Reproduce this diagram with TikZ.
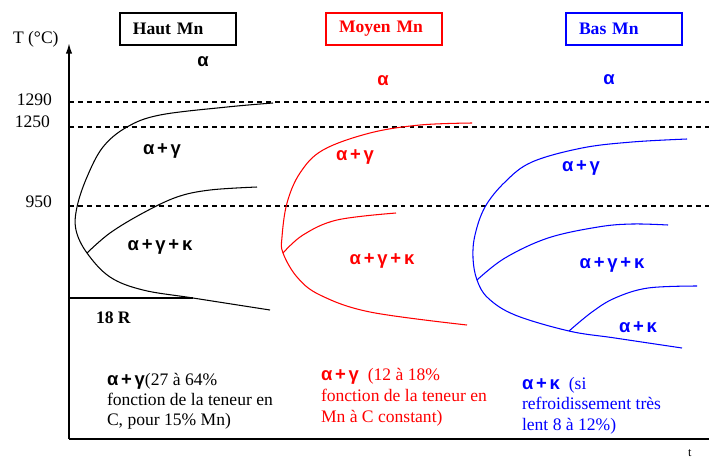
\documentclass[tikz,border=0pt]{standalone}
\usepackage{fontspec}
\setmainfont{Liberation Serif}
\newfontfamily\gsansfam{Liberation Sans}
\usetikzlibrary{arrows.meta}
\newcommand\grk[1]{{\gsansfam\bfseries\fontsize{10.5}{12}\selectfont #1}}
\newcommand\pl{\kern1.6pt+\kern1.6pt}
\begin{document}
\begin{tikzpicture}[x=0.02cm,y=-0.02cm,
  every node/.style={inner sep=0pt, outer sep=0pt, font=\fontsize{10}{11.7}\selectfont},
  titlebox/.style={draw, line width=0.6pt, anchor=north west, minimum width=2.32cm,
    minimum height=0.64cm, text width=1.8cm, inner xsep=0.26cm, align=left,
    font=\fontsize{10}{12}\selectfont\bfseries},
  txt/.style={anchor=base west},
  lab/.style={anchor=center},
  curve/.style={line width=0.6pt},
  guide/.style={line width=0.6pt, dash pattern=on 2.8pt off 2.3pt},
  axis/.style={line width=0.9pt}]
\useasboundingbox (0,0) rectangle (709,457);

% axes
\coordinate (o) at (69,439);
\coordinate (ytop) at (69,43);
\coordinate (xend) at (709,439);
\draw[axis,-{Latex[length=6pt,width=3.6pt]}] (o) -- (ytop);
\draw[line width=1.1pt] (o) -- (xend);
\node[txt] (T) at (13,43) {T (°C)};
\node[txt, font=\fontsize{7}{8}\selectfont] (tlab) at (688,456) {t};

% dashed temperature levels
\coordinate (a1) at (69,102); \coordinate (b1) at (709,102);
\coordinate (a2) at (69,127); \coordinate (b2) at (709,127);
\coordinate (a3) at (69,206); \coordinate (b3) at (709,206);
\draw[guide] (a1) -- (b1);
\draw[guide] (a2) -- (b2);
\draw[guide] (a3) -- (b3);
\node[anchor=base east] (t1290) at (52,105) {1290};
\node[anchor=base east] (t1250) at (50,127) {1250};
\node[anchor=base east] (t950) at (52,207) {950};

% title boxes
\node[titlebox] (haut) at (120,13) {Haut Mn};
\node[titlebox, draw=red, text=red] (moyen) at (326,13) {Moyen Mn};
\node[titlebox, draw=blue, text=blue] (bas) at (566,13) {Bas Mn};

% ---------- Haut Mn (black)
\draw[curve] plot[smooth, tension=0.6] coordinates {(273,103) (227,107) (160,115) (127,127) (103,147) (87,177) (77,207) (76,230) (87,253) (110,277) (143,290) (193,298) (270,310)};
\draw[curve] plot[smooth, tension=0.6] coordinates {(87,253) (110,233) (143,213) (177,197) (210,190) (257,187)};
\coordinate (r18a) at (69,298);
\coordinate (r18b) at (193,298);
\draw[curve] (r18a) -- (r18b);
\node[txt, font=\fontsize{10}{12}\selectfont\bfseries] (r18) at (96,323) {18 R};
\node[lab] (ka) at (203,62) {\grk{α}};
\node[lab] (kag) at (162,151) {\grk{α\pl γ}};
\node[lab] (kagk) at (160,247) {\grk{α\pl γ\pl κ}};
\node[txt] (kt1) at (107,385) {\grk{α\pl γ}(27 à 64\%};
\node[txt] (kt2) at (107,405) {fonction de la teneur en};
\node[txt] (kt3) at (107,425) {C, pour 15\% Mn)};

% ---------- Moyen Mn (red)
\begin{scope}[red]
\draw[curve] plot[smooth, tension=0.6] coordinates {(472,123) (420,125) (370,133) (323,150) (300,173) (287,203) (282,237) (283,253) (297,277) (320,295) (370,312) (467,325)};
\draw[curve] plot[smooth, tension=0.6] coordinates {(283,253) (303,235) (337,220) (396,213)};
\node[lab, text=red] (ra) at (383,81) {\grk{α}};
\node[lab, text=red] (rag) at (355,157) {\grk{α\pl γ}};
\node[lab, text=red] (ragk) at (382,261) {\grk{α\pl γ\pl κ}};
\node[txt, text=red] (rt1) at (321,380) {\grk{α\pl γ}\ \ (12 à 18\%};
\node[txt, text=red] (rt2) at (321,401) {fonction de la teneur en};
\node[txt, text=red] (rt3) at (321,422) {Mn à C constant)};
\end{scope}

% ---------- Bas Mn (blue)
\begin{scope}[blue]
\draw[curve] plot[smooth, tension=0.6] coordinates {(687,139) (632,142) (582,148) (532,162) (505,182) (485,207) (475,235) (473,258) (477,280) (488,298) (515,315) (569,331) (615,338) (682,348)};
\draw[curve] plot[smooth, tension=0.6] coordinates {(477,280) (505,258) (548,238) (598,227) (632,224) (668,225)};
\draw[curve] plot[smooth, tension=0.6] coordinates {(569,331) (592,312) (615,298) (648,288) (697,286)};
\node[lab, text=blue] (ba) at (609,80) {\grk{α}};
\node[lab, text=blue] (bag) at (581,168) {\grk{α\pl γ}};
\node[lab, text=blue] (bagk) at (612,265) {\grk{α\pl γ\pl κ}};
\node[lab, text=blue] (bak) at (638,327) {\grk{α\pl κ}};
\node[txt, text=blue] (bt1) at (522,389) {\grk{α\pl κ}\ \ (si};
\node[txt, text=blue] (bt2) at (522,409) {refroidissement très};
\node[txt, text=blue] (bt3) at (522,430) {lent 8 à 12\%)};
\end{scope}
\end{tikzpicture}
\end{document}
